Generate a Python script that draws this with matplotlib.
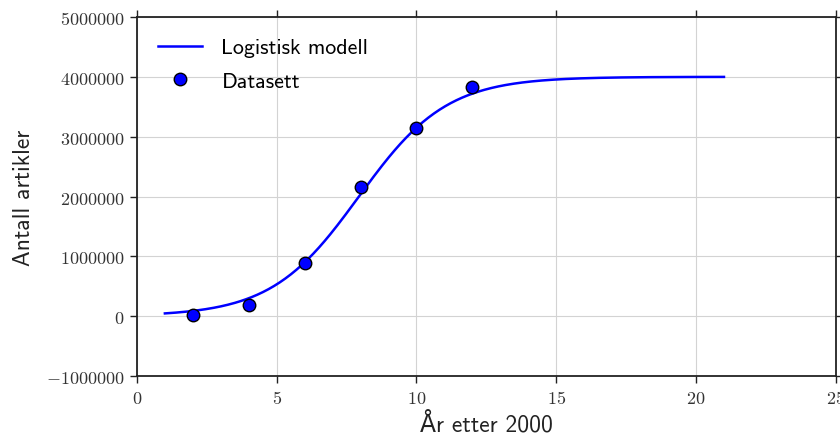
import numpy as np
import matplotlib
matplotlib.use("Agg")
import matplotlib.pyplot as plt

# Data
years = [2, 4, 6, 8, 10, 12]
articles = [17000, 184000, 886000, 2157000, 3140000, 3830000]

# Logistic model parameters
L_cap = 4.0e6
k_rate = 0.637
x_mid = 7.94
x_start, x_end = 1, 21

xticks = [0, 5, 10, 15, 20, 25]
yticks = [-1000000, 0, 1000000, 2000000, 3000000, 4000000, 5000000]

plt.rcParams['mathtext.fontset'] = 'cm'
plt.rcParams['axes.formatter.use_mathtext'] = True

fig = plt.figure(figsize=(8.4, 4.39), dpi=100)
ax = fig.add_axes([0.163, 0.141, 0.832, 0.818])

xm = np.linspace(x_start, x_end, 400)
ym = L_cap / (1 + np.exp(-k_rate * (xm - x_mid)))
ax.plot(xm, ym, color='blue', lw=1.8, label='Logistisk modell')
ax.plot(years, articles, 'o', color='blue', mec='black', mew=1.0, ms=9, label='Datasett')

ax.set_xlim(0, 25)
ax.set_ylim(-1000000, 5000000)
ax.set_xticks(xticks)
ax.set_yticks(yticks)
ax.set_xticklabels([f'${t}$' for t in xticks])
ax.set_yticklabels([f'${t}$' if t >= 0 else f'$-{abs(t)}$' for t in yticks])
ax.grid(True, color='#d3d3d3', lw=0.8)
ax.set_axisbelow(True)
for s in ax.spines.values():
    s.set_linewidth(1.3)
    s.set_color('#222222')
ax.tick_params(direction='out', length=5, width=1.0, top=True, right=True,
               labelsize=13, colors='#222222', labelcolor='#333333', pad=4)

lab_font = dict(family=['cmss10', 'DejaVu Sans'], size=17, color='#222222')
ax.set_xlabel('År etter 2000', fontdict=lab_font, labelpad=4)
ax.set_ylabel('Antall artikler', fontdict=lab_font, labelpad=8)

leg = ax.legend(loc='upper left', frameon=False, prop={'family': ['cmss10', 'DejaVu Sans'], 'size': 15.8},
                handlelength=2.0, handletextpad=0.9, borderaxespad=0.55, labelspacing=0.65)

fig.savefig('out.png', dpi=100)
